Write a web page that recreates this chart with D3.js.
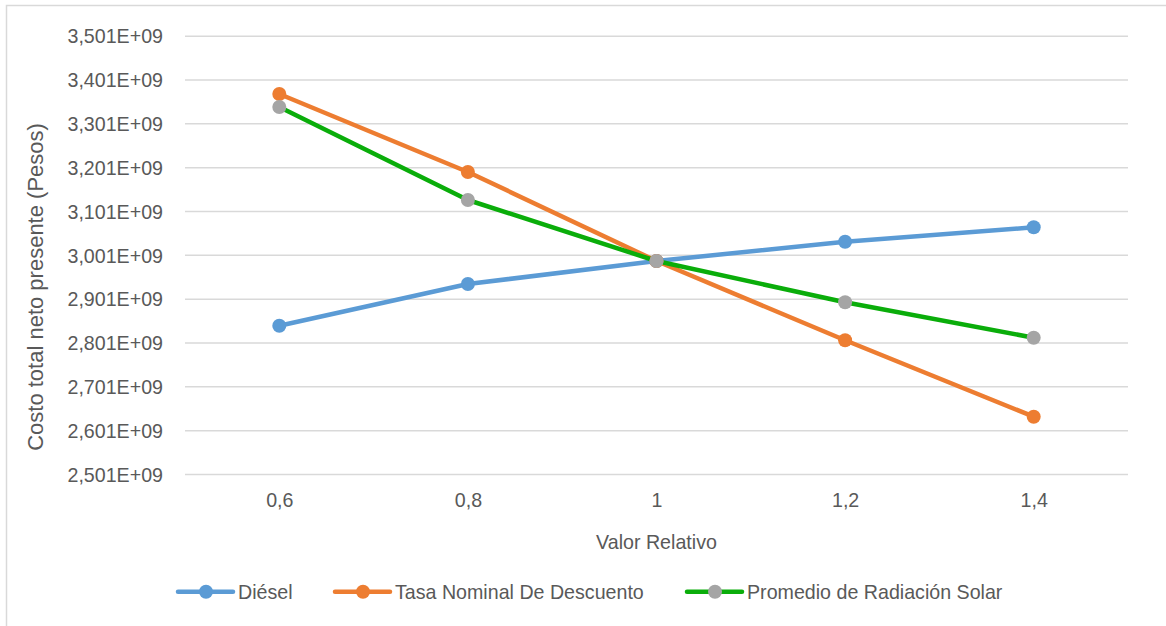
<!DOCTYPE html>
<html>
<head>
<meta charset="utf-8">
<script src="https://cdn.jsdelivr.net/npm/d3@7"></script>
<style>
  html, body { margin: 0; padding: 0; background: #fff; }
  svg { display: block; }
  text { font-family: "Liberation Sans", Arial, sans-serif; fill: #595959; }
</style>
</head>
<body>
<svg id="chart" width="1166" height="626"></svg>
<script>
// Sensitivity of total net present cost to each parameter
const categories = ["0,6", "0,8", "1", "1,2", "1,4"];
const diesel    = [2.8405e9, 2.9356e9, 2.9881e9, 3.0321e9, 3.0650e9];
const tasa      = [3.3691e9, 3.1912e9, 2.9881e9, 2.8072e9, 2.6329e9];
const radiacion = [3.3395e9, 3.1273e9, 2.9881e9, 2.8939e9, 2.8131e9];
const yTicks = [2.501e9, 2.601e9, 2.701e9, 2.801e9, 2.901e9, 3.001e9,
                3.101e9, 3.201e9, 3.301e9, 3.401e9, 3.501e9];
const seriesNames = ["Diésel", "Tasa Nominal De Descuento", "Promedio de Radiación Solar"];

const series = [
  { name: seriesNames[0], values: diesel,    line: "#5b9bd5", marker: "#5b9bd5" },
  { name: seriesNames[1], values: tasa,      line: "#ed7d31", marker: "#ed7d31" },
  { name: seriesNames[2], values: radiacion, line: "#0aad0a", marker: "#a5a5a5" }
];

const svg = d3.select("#chart");

// outer chart frame
svg.append("rect")
  .attr("x", 6.5).attr("y", 5.5)
  .attr("width", 1200).attr("height", 700)
  .attr("fill", "none").attr("stroke", "#d9d9d9").attr("stroke-width", 1.5);

const x = d3.scalePoint().domain(categories).range([185, 1128]).padding(0.5);
const y = d3.scaleLinear().domain([2.501e9, 3.501e9]).range([474.5, 36.2]);

const fmt = v => (v / 1e9).toFixed(3).replace(".", ",") + "E+09";

// horizontal gridlines
svg.append("g")
  .selectAll("line")
  .data(yTicks)
  .join("line")
  .attr("x1", 185).attr("x2", 1128)
  .attr("y1", d => y(d)).attr("y2", d => y(d))
  .attr("stroke", "#d9d9d9").attr("stroke-width", 1.5);

// y axis labels
const yAxis = d3.axisLeft(y).tickValues(yTicks).tickFormat(fmt).tickSize(0).tickPadding(0);
const gy = svg.append("g").attr("transform", "translate(163,0)").call(yAxis);
gy.select(".domain").remove();
gy.selectAll("text")
  .attr("font-size", 21).attr("fill", "#595959")
  .attr("font-family", "Liberation Sans, Arial, sans-serif");

// x axis labels
const xAxis = d3.axisBottom(x).tickSize(0).tickPadding(0);
const gx = svg.append("g").attr("transform", "translate(0,492)").call(xAxis);
gx.select(".domain").remove();
gx.selectAll("text")
  .attr("font-size", 21).attr("fill", "#595959")
  .attr("font-family", "Liberation Sans, Arial, sans-serif");

// axis titles
svg.append("text")
  .attr("x", 656.5).attr("y", 549)
  .attr("text-anchor", "middle").attr("font-size", 21)
  .text("Valor Relativo");

svg.append("text")
  .attr("class", "ytitle")
  .attr("transform", "translate(43,287) rotate(-90)")
  .attr("text-anchor", "middle").attr("font-size", 22)
  .text("Costo total neto presente (Pesos)");

// series lines and markers
const line = d3.line().x((d, i) => x(categories[i])).y(d => y(d));

series.forEach(s => {
  svg.append("path")
    .attr("d", line(s.values))
    .attr("fill", "none")
    .attr("stroke", s.line)
    .attr("stroke-width", 4.5)
    .attr("stroke-linejoin", "round")
    .attr("stroke-linecap", "round");
});
series.forEach(s => {
  svg.append("g")
    .selectAll("circle")
    .data(s.values)
    .join("circle")
    .attr("cx", (d, i) => x(categories[i]))
    .attr("cy", d => y(d))
    .attr("r", 7)
    .attr("fill", s.marker);
});

// legend
const legendX = [178, 335, 687];
const legend = svg.append("g");
series.forEach((s, i) => {
  const g = legend.append("g").attr("transform", `translate(${legendX[i]},591.7)`);
  g.append("line")
    .attr("x1", 0).attr("x2", 55)
    .attr("stroke", s.line).attr("stroke-width", 4.5)
    .attr("stroke-linecap", "round");
  g.append("circle").attr("cx", 28).attr("r", 7).attr("fill", s.marker);
  g.append("text")
    .attr("x", 60).attr("y", 7)
    .attr("font-size", 21)
    .text(s.name);
});

// slightly condensed lettering for horizontal labels
svg.selectAll("text").filter(function () { return !this.classList.contains("ytitle"); })
  .each(function () {
    const w = this.getComputedTextLength();
    this.setAttribute("textLength", (w * 0.935).toFixed(1));
    this.setAttribute("lengthAdjust", "spacingAndGlyphs");
  });
</script>
</body>
</html>
